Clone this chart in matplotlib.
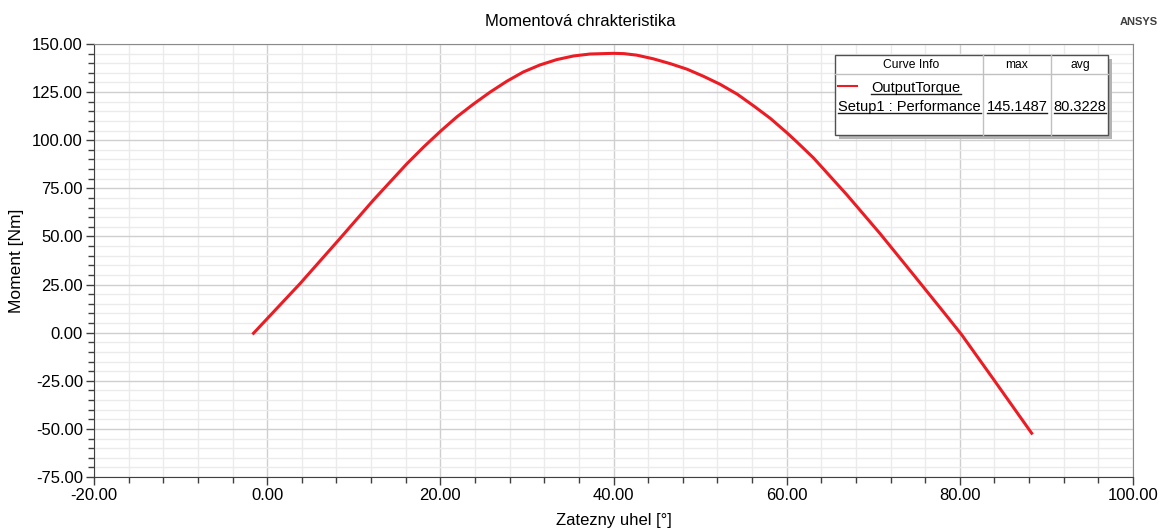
import numpy as np
import matplotlib
matplotlib.use("Agg")
import matplotlib.pyplot as plt
from matplotlib.ticker import MultipleLocator, FormatStrFormatter
from matplotlib.lines import Line2D
from matplotlib.patches import Rectangle

plt.rcParams['font.family'] = ['Liberation Sans', 'DejaVu Sans']

# zatezny uhel [deg] a moment [Nm]
uhel = [-1.7, 3.8, 8.4, 12.25, 16.1, 18.1, 20.0, 21.9, 23.8, 25.75, 27.7, 29.6,
        31.5, 33.45, 35.4, 37.3, 40.0, 41.2, 42.7, 44.6, 46.55, 48.5, 50.4,
        52.3, 54.3, 56.2, 58.1, 60.0, 61.2, 63.1, 67.0, 70.8, 74.7, 78.5, 80.2,
        83.9, 88.4]
moment = [-0.9, 25.5, 48.9, 68.8, 87.6, 96.6, 104.6, 112.1, 118.7, 125.0, 130.7, 135.5,
          139.1, 141.9, 143.8, 144.8, 145.1487, 145.0, 144.2, 142.3, 139.8, 136.9, 133.2,
          129.1, 123.9, 117.8, 111.4, 104.0, 99.0, 90.8, 71.4, 51.4, 29.8, 8.6, -1.0,
          -24.3, -52.9]

krivka = "OutputTorque"
reseni = "Setup1 : Performance"
max_moment = 145.1487
avg_moment = 80.3228

W, H = 1160, 530
fig = plt.figure(figsize=(W / 100, H / 100), dpi=100)
ax = fig.add_axes([94 / W, 1 - 477 / H, (1133 - 94) / W, (477 - 44) / H])

ax.plot(uhel, moment, color='#ec1c24', lw=2.2, solid_capstyle='butt',
        solid_joinstyle='round', zorder=3)

ax.set_xlim(-20, 100)
ax.set_ylim(-75, 150)
ax.xaxis.set_major_locator(MultipleLocator(20))
ax.xaxis.set_minor_locator(MultipleLocator(4))
ax.yaxis.set_major_locator(MultipleLocator(25))
ax.yaxis.set_minor_locator(MultipleLocator(5))
ax.xaxis.set_major_formatter(FormatStrFormatter('%.2f'))
ax.yaxis.set_major_formatter(FormatStrFormatter('%.2f'))
ax.grid(which='major', color='#cfcfcf', lw=1.0)
ax.grid(which='minor', color='#ebebeb', lw=1.0)
ax.set_axisbelow(True)
ax.tick_params(which='major', length=6, width=1, color='#404040', labelsize=12, pad=2)
ax.tick_params(which='minor', length=4, width=1, color='#404040')
for s in ['left', 'bottom']:
    ax.spines[s].set_color('#404040')
for s in ['top', 'right']:
    ax.spines[s].set_color('#8a8a8a')

ax.set_xlabel('Zatezny uhel [°]', fontsize=12, labelpad=7)
ax.set_ylabel('Moment [Nm]', fontsize=12.5, labelpad=6)

fig.text(0.5, 1 - 22 / H, 'Momentová chrakteristika', ha='center', va='center', fontsize=12)
fig.text(1158 / W, 1 - 22 / H, 'ANSYS', ha='right', va='center', fontsize=8,
         fontweight='bold', color='#404040')


# legenda jako tabulka v pixelech obrazku
def px(x, y):
    return x / W, 1 - y / H


bx0, bx1, by0, by1 = 835, 1108, 55, 135
fig.patches.append(Rectangle(px(bx0 + 4, by1 + 4), (bx1 - bx0) / W, (by1 - by0) / H,
                             transform=fig.transFigure, facecolor='#b4b4b4',
                             edgecolor='none', zorder=4))
fig.patches.append(Rectangle(px(bx0, by1), (bx1 - bx0) / W, (by1 - by0) / H,
                             transform=fig.transFigure, facecolor='white',
                             edgecolor='#505050', lw=1, zorder=5))
for x in [983, 1051]:
    fig.lines.append(Line2D([x / W, x / W], [1 - by0 / H, 1 - by1 / H],
                            transform=fig.transFigure, color='#c0c0c0', lw=1, zorder=6))
fig.lines.append(Line2D([bx0 / W, bx1 / W], [1 - 74 / H, 1 - 74 / H],
                        transform=fig.transFigure, color='#c0c0c0', lw=1, zorder=6))
fig.lines.append(Line2D([838 / W, 857 / W], [1 - 86 / H, 1 - 86 / H],
                        transform=fig.transFigure, color='#ec1c24', lw=1.5, zorder=6))

for txt, x in [('Curve Info', 911), ('max', 1017), ('avg', 1080)]:
    fig.text(*px(x, 65), txt, ha='center', va='center', fontsize=8.7, zorder=7)

podtrzene = [
    fig.text(*px(916, 88), krivka, ha='center', va='center', fontsize=10.5, zorder=7),
    fig.text(*px(838, 107), reseni, ha='left', va='center', fontsize=10.5, zorder=7),
    fig.text(*px(1017, 107), '%.4f' % max_moment, ha='center', va='center', fontsize=10.5, zorder=7),
    fig.text(*px(1080, 107), '%.4f' % avg_moment, ha='center', va='center', fontsize=10.5, zorder=7),
]
fig.canvas.draw()
r = fig.canvas.get_renderer()
for t in podtrzene:
    bb = t.get_window_extent(r)
    yy = bb.y0 + 1
    fig.lines.append(Line2D([bb.x0 / W, bb.x1 / W], [yy / H, yy / H],
                            transform=fig.transFigure, color='#202020', lw=1, zorder=7))

fig.savefig('out.png', dpi=100)
